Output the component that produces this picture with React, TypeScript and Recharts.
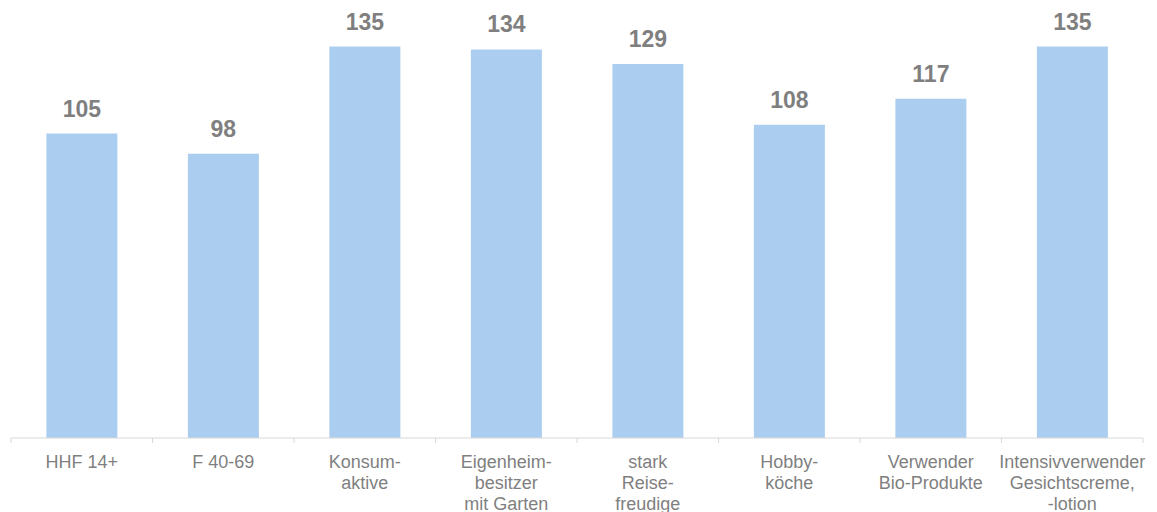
import React from 'react';
import { BarChart, Bar, XAxis, YAxis, LabelList } from 'recharts';

const categories: string[][] = [
  ['HHF 14+'],
  ['F 40-69'],
  ['Konsum-', 'aktive'],
  ['Eigenheim-', 'besitzer', 'mit Garten'],
  ['stark', 'Reise-', 'freudige'],
  ['Hobby-', 'köche'],
  ['Verwender', 'Bio-Produkte'],
  ['Intensivverwender', 'Gesichtscreme,', '-lotion'],
];
const values: number[] = [105, 98, 135, 134, 129, 108, 117, 135];

const data = categories.map((c, i) => ({ name: c.join('\n'), value: values[i] }));

const TEXT = '#7f7f7f';
const AXIS = '#d9d9d9';
const AXIS_Y = 438;

const Tick = (props: any) => {
  const { x, payload, index, visibleTicksCount } = props;
  const half = payload && payload.offset ? payload.offset : 70.75;
  const lines = String(payload.value).split('\n');
  return (
    <g>
      <line x1={x - half} y1={AXIS_Y} x2={x - half} y2={AXIS_Y + 5} stroke={AXIS} strokeWidth={1} />
      {index === visibleTicksCount - 1 && (
        <line x1={x + half} y1={AXIS_Y} x2={x + half} y2={AXIS_Y + 5} stroke={AXIS} strokeWidth={1} />
      )}
      {lines.map((l: string, i: number) => (
        <text
          key={i}
          x={x}
          y={AXIS_Y + 29.5 + i * 21}
          textAnchor="middle"
          fill={TEXT}
          fontSize={18}
          fontFamily="Liberation Sans, Arial, sans-serif"
        >
          {l}
        </text>
      ))}
    </g>
  );
};

const ValueLabel = (props: any) => {
  const { x, y, width, value } = props;
  return (
    <text
      x={x + width / 2}
      y={y - 17}
      textAnchor="middle"
      fill={TEXT}
      fontSize={23}
      fontWeight="bold"
      fontFamily="Liberation Sans, Arial, sans-serif"
    >
      {value}
    </text>
  );
};

export default function App() {
  return (
    <div style={{ position: 'absolute', left: 0, top: 0 }}>
      <BarChart
        width={1157}
        height={512}
        data={data}
        margin={{ top: 3, right: 14, left: 11, bottom: 0 }}
        barCategoryGap="25%"
      >
        <XAxis
          dataKey="name"
          height={74}
          axisLine={{ stroke: AXIS, strokeWidth: 1 }}
          tickLine={false}
          tick={<Tick />}
          interval={0}
        />
        <YAxis hide domain={[0, 150]} />
        <Bar dataKey="value" fill="#abcdef" isAnimationActive={false}>
          <LabelList dataKey="value" content={<ValueLabel />} />
        </Bar>
      </BarChart>
    </div>
  );
}
